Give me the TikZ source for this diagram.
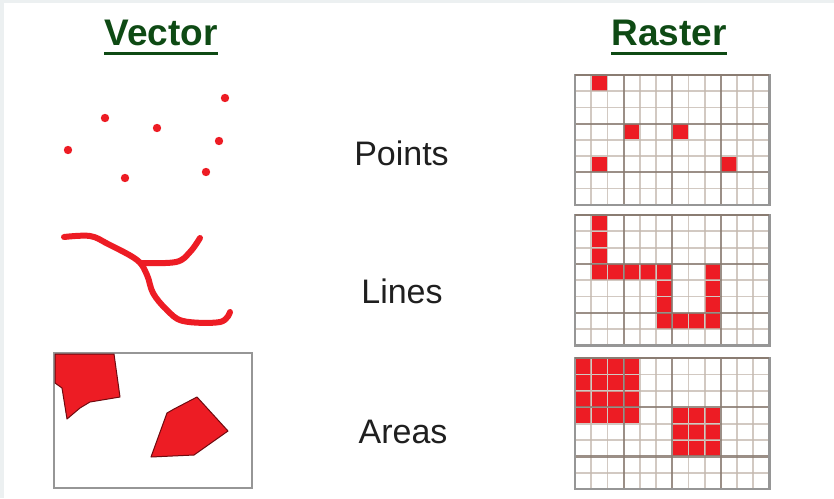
\documentclass[tikz,border=0pt]{standalone}
\usepackage{fontspec}
\setmainfont{Liberation Sans}
\definecolor{vred}{RGB}{237,28,36}
\definecolor{vdark}{RGB}{110,10,15}
\definecolor{hgreen}{RGB}{14,74,20}
\definecolor{minorg}{RGB}{196,184,174}
\definecolor{majorg}{RGB}{138,124,114}
\definecolor{edgeg}{RGB}{236,240,241}
\definecolor{frameg}{RGB}{150,150,150}
\tikzset{
  heading/.style={font=\fontsize{37}{44}\selectfont\bfseries, text=hgreen, inner sep=0pt, anchor=base},
  hline/.style={draw=hgreen, line width=3pt},
  kind/.style={font=\fontsize{34}{40}\selectfont, text=black!88, inner sep=0pt, anchor=base},
  minorline/.style={draw=minorg, line width=1.8pt, opacity=0.75},
  majorline/.style={draw=majorg, line width=2.2pt, opacity=0.85},
  gridframe/.style={draw=frameg, line width=2.2pt},
  vline/.style={draw=vred, line width=6pt, line cap=round, line join=round},
  vpoint/.style={fill=vred},
  varea/.style={fill=vred, draw=vdark, line width=1pt, line join=round},
}
\newcommand\rastergrid[3]{%
  \begin{scope}[shift={(575,#1)}]
    \foreach \c/\r in {#2} \fill[vred] (\c*16.2+0.5,\r*#3+0.5) rectangle ++(15.2,#3-1);
    \foreach \i in {1,2,4,5,7,8,10,11} \draw[minorline] (\i*16.2,0) -- (\i*16.2,8*#3);
    \foreach \j in {1,2,4,5,7} \draw[minorline] (0,\j*#3) -- (194.4,\j*#3);
    \foreach \i in {3,6,9} \draw[majorline] (\i*16.2,0) -- (\i*16.2,8*#3);
    \foreach \j in {3,6} \draw[majorline] (0,\j*#3) -- (194.4,\j*#3);
    \draw[gridframe] (0,0) rectangle (194.4,8*#3);
    \draw[majorline,opacity=1] (0,0) -- (194.4,0);
  \end{scope}}
\begin{document}
\begin{tikzpicture}[x=1pt,y=-1pt]
\useasboundingbox (0,0) rectangle (834,498);
\fill[white] (0,0) rectangle (834,498);
\fill[edgeg] (0,0) rectangle (834,3);
\fill[edgeg] (0,0) rectangle (4,498);

% headings
\node[heading] (vector) at (161,45) {Vector};
\node[heading] (raster) at (669,45) {Raster};
\draw[hline] ([yshift=-8pt]vector.base west) -- ([yshift=-8pt]vector.base east);
\draw[hline] ([yshift=-8pt]raster.base west) -- ([yshift=-8pt]raster.base east);

% labels
\node[kind] (points) at (401.5,165) {Points};
\node[kind] (lines) at (402,303) {Lines};
\node[kind] (areas) at (403,443) {Areas};

% vector points
\foreach \p in {(225,98),(105,118),(157,128),(219,141),(68,150),(125,178),(206,172)}
  \fill[vpoint] \p circle (4.2);

% vector lines
\draw[vline] plot[smooth, tension=0.6] coordinates {(64,237) (90,236) (108,244) (137,260) (147,275) (153,293) (166,309) (183,321) (220,322) (230,312)};
\draw[vline] plot[smooth, tension=0.6] coordinates {(141,263) (176,262) (190,252) (200,238)};

% vector areas
\draw[draw=frameg, line width=2.5pt] (54,353) rectangle (252,488);
\filldraw[varea] (55,354) -- (114,354) -- (120,397) -- (90,402) -- (80,408) -- (67,419) -- (62,388) -- (55,383) -- cycle;
\filldraw[varea] (151,457) -- (167,413) -- (174,409) -- (197,397) -- (228,431) -- (194,455) -- cycle;

% raster grids
\rastergrid{75}{1/0,3/3,6/3,1/5,9/5}{16.2}
\rastergrid{215}{1/0,1/1,1/2,1/3,2/3,3/3,4/3,5/3,5/4,5/5,5/6,6/6,7/6,8/6,8/5,8/4,8/3}{16.3}
\rastergrid{358}{0/0,1/0,2/0,3/0,0/1,1/1,2/1,3/1,0/2,1/2,2/2,3/2,0/3,1/3,2/3,3/3,6/3,7/3,8/3,6/4,7/4,8/4,6/5,7/5,8/5}{16.4}
\end{tikzpicture}
\end{document}
